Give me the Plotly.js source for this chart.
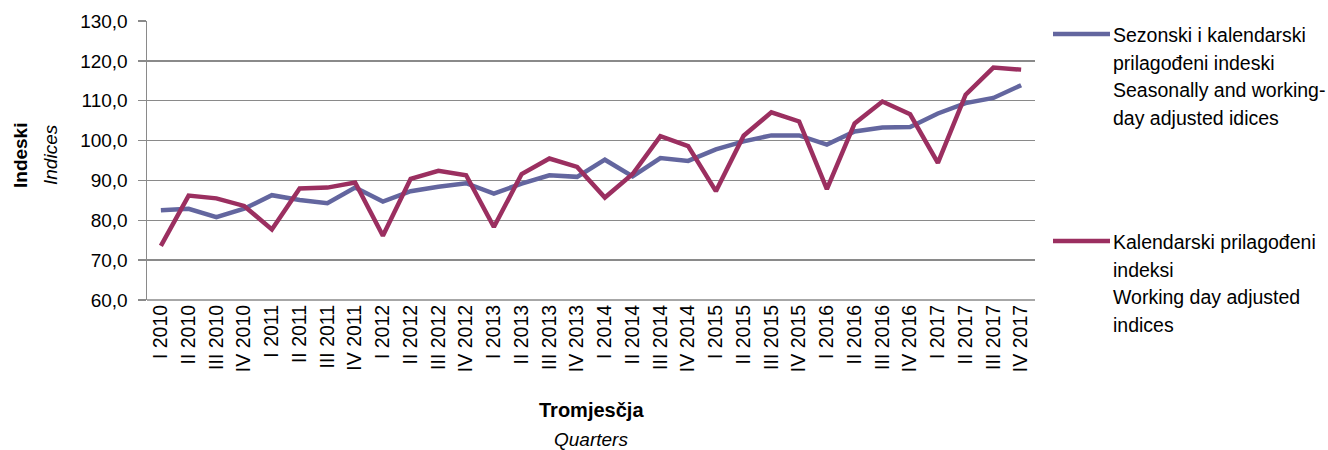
<!DOCTYPE html>
<html>
<head>
<meta charset="utf-8">
<script src="https://cdn.plot.ly/plotly-3.0.1.min.js"></script>
<style>html,body{margin:0;padding:0;background:#fff}#chart{width:1328px;height:450px}</style>
</head>
<body>
<div id="chart"></div>
<script>
const quarters = ["I 2010","II 2010","III 2010","IV 2010","I 2011","II 2011","III 2011","IV 2011",
  "I 2012","II 2012","III 2012","IV 2012","I 2013","II 2013","III 2013","IV 2013",
  "I 2014","II 2014","III 2014","IV 2014","I 2015","II 2015","III 2015","IV 2015",
  "I 2016","II 2016","III 2016","IV 2016","I 2017","II 2017","III 2017","IV 2017"];
const seasonallyAdjusted = [82.5,82.9,80.8,82.9,86.3,85.1,84.3,88.2,
  84.7,87.3,88.4,89.3,86.7,89.2,91.3,90.9,
  95.2,91.0,95.6,94.9,97.8,99.8,101.3,101.3,
  99.0,102.3,103.3,103.4,106.8,109.4,110.7,113.9];
const workingDayAdjusted = [73.6,86.2,85.5,83.6,77.7,88.0,88.2,89.5,
  76.1,90.4,92.4,91.3,78.3,91.6,95.5,93.4,
  85.7,91.6,101.1,98.6,87.3,101.2,107.1,104.8,
  87.8,104.3,109.8,106.6,94.4,111.5,118.3,117.8];
const seriesNameLines = [
  ["Sezonski i kalendarski", "prilagođeni indeski", "Seasonally and working-", "day adjusted idices"],
  ["Kalendarski prilagođeni", "indeksi", "Working day adjusted", "indices"]
];
const seriesColors = ["#63669f", "#9b2f60"];

const FONT = "Liberation Sans, Arial, sans-serif";
const traces = seriesNameLines.map((lines, i) => ({
  x: quarters, y: i === 0 ? seasonallyAdjusted : workingDayAdjusted,
  name: lines.join(" "), type: "scatter", mode: "lines",
  line: {color: seriesColors[i], width: 4.5}
}));

// plot area in pixels: left 147, right 1035, top 21, bottom 300
const px = v => (v - 147) / 888;
const py = v => (300 - v) / 279;

const legendY = [34, 241];
const lineStep = 27.7;
const shapes = [{type: "line", xref: "paper", yref: "paper", x0: 0, x1: 1, y0: 0, y1: 0,
  line: {color: "#8a8a8a", width: 1.5}}];
const annotations = [];
seriesNameLines.forEach((lines, i) => {
  shapes.push({type: "line", xref: "paper", yref: "paper", x0: px(1053), x1: px(1110),
    y0: py(legendY[i]), y1: py(legendY[i]), line: {color: seriesColors[i], width: 4.5}});
  lines.forEach((t, j) => {
    annotations.push({xref: "paper", yref: "paper", x: px(1111), y: py(legendY[i] + 1 + j * lineStep),
      xanchor: "left", yanchor: "middle", align: "left", showarrow: false, text: t,
      font: {family: FONT, size: 19.5, color: "#000"}});
  });
});
annotations.push(
  {xref: "paper", yref: "paper", x: px(20), y: py(155), textangle: -90, showarrow: false,
   xanchor: "center", yanchor: "middle", text: "<b>Indeski</b>", font: {family: FONT, size: 19, color: "#000"}},
  {xref: "paper", yref: "paper", x: px(50), y: py(155), textangle: -90, showarrow: false,
   xanchor: "center", yanchor: "middle", text: "<i>Indices</i>", font: {family: FONT, size: 19, color: "#000"}},
  {xref: "paper", yref: "paper", x: 0.5, y: py(410), showarrow: false,
   xanchor: "center", yanchor: "middle", text: "<b>Tromjesčja</b>", font: {family: FONT, size: 20, color: "#000"}},
  {xref: "paper", yref: "paper", x: 0.5, y: py(440), showarrow: false,
   xanchor: "center", yanchor: "middle", text: "<i>Quarters</i>", font: {family: FONT, size: 19, color: "#000"}}
);

const layout = {
  width: 1328, height: 450,
  margin: {l: 147, r: 293, t: 21, b: 150},
  paper_bgcolor: "#fff", plot_bgcolor: "#fff",
  separators: ",.",
  font: {family: FONT, size: 18, color: "#000"},
  showlegend: false,
  xaxis: {
    type: "category", tickangle: -90, showgrid: false, zeroline: false,
    showline: false, ticks: "", tickfont: {family: FONT, size: 19.5},
    range: [-0.5, quarters.length - 0.5]
  },
  yaxis: {
    range: [60, 130], dtick: 10, tickformat: ".1f",
    showgrid: true, gridcolor: "#8a8a8a", gridwidth: 1.3,
    zeroline: false, showline: true, linecolor: "#8a8a8a", linewidth: 1.5,
    ticks: "outside", ticklen: 8, tickcolor: "#8a8a8a", tickwidth: 1.3,
    ticklabelstandoff: 6,
    tickfont: {family: FONT, size: 19}
  },
  shapes: shapes,
  annotations: annotations
};
Plotly.newPlot("chart", traces, layout, {displayModeBar: false, staticPlot: true});
</script>
</body>
</html>
